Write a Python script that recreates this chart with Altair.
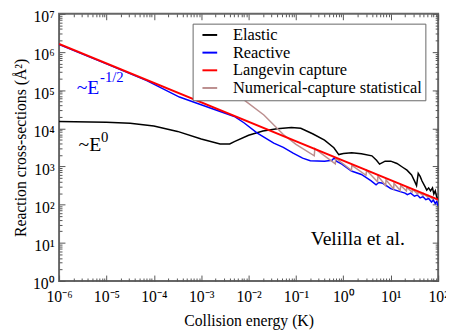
import altair as alt
import pandas as pd

FONT = "Liberation Serif"

series_names = ["Elastic", "Reactive", "Langevin capture", "Numerical-capture statistical"]
series_colors = ["#000000", "#0000ff", "#ff0000", "#bc8f8f"]

elastic_E = [1e-6, 1e-5, 3.16e-5, 1e-4, 3.16e-4, 1e-3, 2.5e-3, 4e-3, 5e-3, 1e-2,
             2e-2, 4e-2, 8e-2, 0.126, 0.224, 0.4, 0.63, 0.8, 1.0, 1.5,
             2.4, 4.0, 5.0, 5.8, 7.6, 10, 13.5, 17.8, 22, 27.5,
             31.6, 35, 38, 41.7, 45.7, 52.5, 57.5, 63, 69, 76,
             81, 87, 93, 100]
elastic_sigma = [1.51e4, 1.45e4, 1.35e4, 1.15e4, 8.3e3, 5.25e3, 3.9e3, 3.9e3, 4.47e3, 6.6e3,
                 8.5e3, 9.8e3, 1.05e4, 1.0e4, 7.2e3, 4.9e3, 3.1e3, 2.05e3, 2.2e3, 2.3e3,
                 2.15e3, 1.9e3, 1.45e3, 1.15e3, 1.38e3, 1.38e3, 1.2e3, 955, 800, 600,
                 420, 316, 660, 550, 417, 300, 240, 275, 230, 275,
                 190, 230, 160, 132]

reactive_E = [1e-6, 1e-5, 7.1e-5, 3.47e-4, 1.66e-3, 5e-3, 8.1e-3, 1.5e-2, 3.4e-2, 5.4e-2,
              8.7e-2, 0.138, 0.2, 0.4, 0.575, 0.645, 0.71, 0.93, 1.48, 2.4,
              3.8, 4.9, 5.6, 6.8, 10, 15.8, 20, 22.4, 26.3, 31.6,
              36.3, 41.7, 47.9, 55, 63, 72.4, 79.4, 87, 93, 100]
reactive_sigma = [1.58e6, 4.9e5, 1.78e5, 6.6e4, 3.3e4, 2.04e4, 1.38e4, 7.6e3, 4.1e3, 3.16e3,
                  2.24e3, 1.66e3, 1.41e3, 1.38e3, 1.45e3, 1.7e3, 1.38e3, 1.15e3, 760, 617,
                  427, 331, 380, 363, 263, 219, 200, 182, 200, 166,
                  178, 151, 162, 135, 145, 117, 132, 107, 120, 93]

langevin_E = [1e-6, 1e2]
langevin_sigma = [1.62e6, 135]

numerical_E = [8.1e-3, 2.1e-2, 5.4e-2, 0.1, 0.243, 0.25, 0.676, 0.69, 1.48, 1.51,
               3.0, 3.09, 5.25, 5.37, 7.8, 7.94, 11.5, 11.7, 15.8, 16.2,
               21.4, 21.9, 28.2, 28.8, 37.2, 38, 47.9, 49, 60, 61.7,
               76, 77.6, 100]
numerical_sigma = [5.5e4, 2.24e4, 6.9e3, 3.8e3, 1.9e3, 2.95e3, 1.17e3, 1.66e3, 794, 1.07e3,
                   589, 794, 398, 562, 316, 447, 257, 363, 234, 316,
                   229, 282, 214, 251, 190, 219, 174, 195, 158, 174,
                   141, 155, 129]

x_major = [1e-6, 1e-5, 1e-4, 1e-3, 1e-2, 1e-1, 1e0, 1e1, 1e2]
y_major = [1e0, 1e1, 1e2, 1e3, 1e4, 1e5, 1e6, 1e7]
minor_mult = [2, 3, 4, 5, 6, 7, 8, 9]
x_ticks = x_major + [m * d for d in x_major[:-1] for m in minor_mult]
y_ticks = y_major + [m * d for d in y_major[:-1] for m in minor_mult]

# annotations
blue_text = ["~E"]
blue_text_E = [2.35e-6]
blue_text_s = [8.0e4]
blue_sup = ["-1/2"]
blue_sup_E = [7.3e-6]
blue_sup_s = [1.6e5]
black_text = ["~E"]
black_text_E = [2.58e-6]
black_text_s = [2.57e3]
black_sup = ["0"]
black_sup_E = [7.7e-6]
black_sup_s = [4.4e3]
credit_text = ["Velilla et al."]
credit_E = [0.204]
credit_s = [8.5]


def frame(name, E, s):
    return pd.DataFrame({"series": name, "E": E, "sigma": s, "idx": range(len(E))})


df_main = pd.concat([
    frame("Elastic", elastic_E, elastic_sigma),
    frame("Reactive", reactive_E, reactive_sigma),
    frame("Numerical-capture statistical", numerical_E, numerical_sigma),
])
df_lang = frame("Langevin capture", langevin_E, langevin_sigma)

xs = alt.Scale(type="log", domain=[1e-6, 1e2], nice=False)
ys = alt.Scale(type="log", domain=[1, 1e7], nice=False)
cs = alt.Scale(domain=series_names, range=series_colors)

IS_MAJOR = "abs(log(datum.value)/LN10 - round(log(datum.value)/LN10)) < 0.001"
tick_expr = {"expr": f"({IS_MAJOR}) ? -6 : -3"}
SUP = "['⁰','¹','²','³','⁴','⁵','⁶','⁷','⁸','⁹']"
label_expr = (f"({IS_MAJOR}) ? ('10' + (round(log(datum.value)/LN10) < 0 ? '⁻' : '') + "
              f"{SUP}[abs(round(log(datum.value)/LN10))]) : ''")

common = dict(domain=False, grid=False, tickColor="#555", tickWidth=1, tickSize=tick_expr)

x_bottom = alt.Axis(orient="bottom", values=x_ticks, labelExpr=label_expr, labelFont=FONT,
                    labelFontSize=16, labelColor="black", labelPadding=14, labelFlush=False,
                    labelOverlap=False, title="Collision energy (K)", titleFont=FONT,
                    titleFontSize=16, titleFontWeight="normal", titleColor="black",
                    titlePadding=5, **common)
y_left = alt.Axis(orient="left", values=y_ticks, labelExpr=label_expr, labelFont=FONT,
                  labelFontSize=16, labelColor="black", labelPadding=11, labelOffset=3,
                  labelFlush=False, labelOverlap=False, title="Reaction cross-sections (Å²)",
                  titleFont=FONT, titleFontSize=16, titleFontWeight="normal",
                  titleColor="black", titlePadding=4, **common)
x_top = alt.Axis(orient="top", values=x_ticks, labels=False, title=None, **common)
y_right = alt.Axis(orient="right", values=y_ticks, labels=False, title=None, **common)

legend = alt.Legend(title=None, orient="none", legendX=136, legendY=10, fillColor="white",
                    strokeColor="#666", padding=3, symbolOffset=6, symbolType="stroke",
                    symbolStrokeWidth=2, symbolSize=225, labelFont=FONT, labelFontSize=16.7,
                    labelColor="black", labelOffset=15, labelLimit=400, rowPadding=-1)

main = alt.Chart(df_main).mark_line(strokeWidth=1.5, clip=True).encode(
    x=alt.X("E:Q", scale=xs, axis=x_bottom),
    y=alt.Y("sigma:Q", scale=ys, axis=y_left),
    color=alt.Color("series:N", scale=cs, legend=legend),
    order="idx:Q",
)
lang = alt.Chart(df_lang).mark_line(strokeWidth=2, clip=True).encode(
    x=alt.X("E:Q", scale=xs, axis=x_top),
    y=alt.Y("sigma:Q", scale=ys, axis=y_right),
    color=alt.Color("series:N", scale=cs, legend=legend),
    order="idx:Q",
)


def text_layer(t, E, s, color, size):
    d = pd.DataFrame({"t": t, "E": E, "s": s})
    return alt.Chart(d).mark_text(align="left", baseline="alphabetic", font=FONT,
                                  fontSize=size, color=color).encode(
        x=alt.X("E:Q", scale=xs, axis=None),
        y=alt.Y("s:Q", scale=ys, axis=None),
        text="t:N",
    )


chart = alt.layer(
    main, lang,
    text_layer(blue_text, blue_text_E, blue_text_s, "#0000ff", 20),
    text_layer(blue_sup, blue_sup_E, blue_sup_s, "#0000ff", 15),
    text_layer(black_text, black_text_E, black_text_s, "black", 20),
    text_layer(black_sup, black_sup_E, black_sup_s, "black", 15),
    text_layer(credit_text, credit_E, credit_s, "black", 20),
).resolve_axis(x="independent", y="independent").properties(
    width=386, height=272,
    autosize=alt.AutoSizeParams(type="none"),
    padding={"left": 52, "top": 3, "right": 8, "bottom": 48},
).configure_view(stroke="#666", strokeWidth=2)

chart.save("out.html", embed_options={"renderer": "svg", "actions": False})
